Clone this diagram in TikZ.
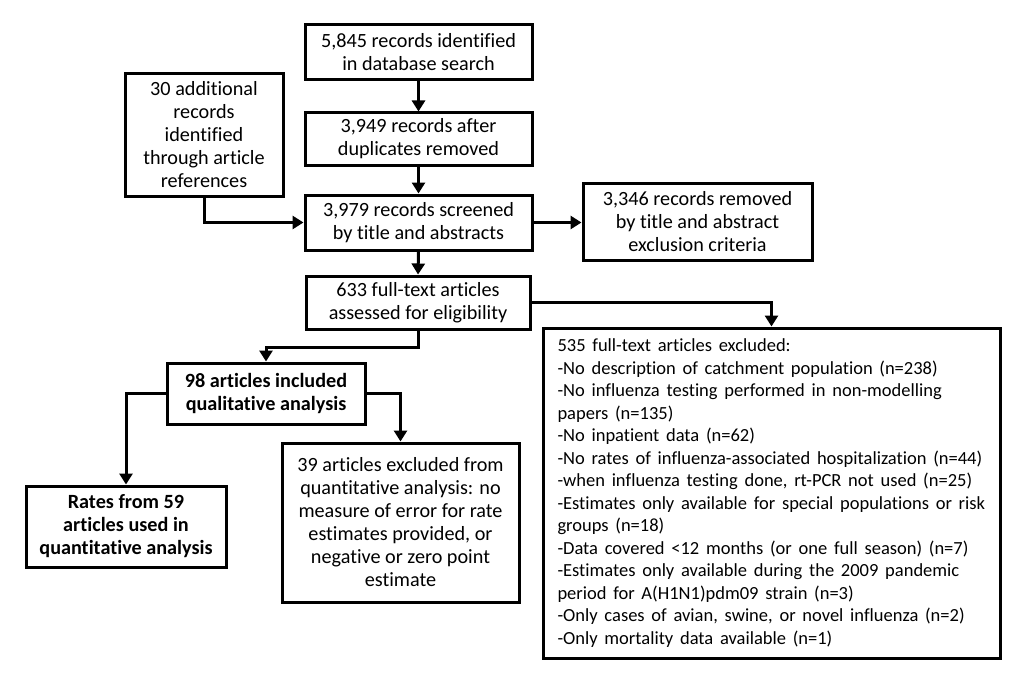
\documentclass[tikz,border=0pt]{standalone}
\usepackage{fontspec}
\setmainfont[Ligatures={NoCommon,TeX}]{Carlito}
\usetikzlibrary{arrows.meta}
\begin{document}
\begin{tikzpicture}[x=1pt,y=-1pt,
  box/.style={draw, line width=3pt, inner sep=0pt, align=center,
    font=\fontsize{20.2}{23}\selectfont},
  boldbox/.style={box, font=\fontsize{20.2}{23}\selectfont\bfseries},
  conn/.style={line width=3pt, -{Triangle[length=11pt,width=13pt]}}]
\useasboundingbox (0,0) rectangle (1024,698);
\node[box, minimum width=227, minimum height=55] (A) at (418.5,52.5)
  {5,845 records identified\\in database search};
\node[box, minimum width=227, minimum height=52] (B) at (418.5,139)
  {3,949 records after\\duplicates removed};
\node[box, minimum width=158, minimum height=122] (C) at (204,135)
  {30 additional\\records\\identified\\through article\\references};
\node[box, minimum width=227, minimum height=55] (D) at (418.5,222.5)
  {3,979 records screened\\by title and abstracts};
\node[box, minimum width=229, minimum height=77] (E) at (697.5,221.5)
  {3,346 records removed\\by title and abstract\\exclusion criteria};
\node[box, minimum width=224, minimum height=53] (F) at (418,302.5)
  {633 full-text articles\\assessed for eligibility};
\node[box, minimum width=457, minimum height=330, align=left,
  text width=442] (G) at (771.5,493)
  {\hspace*{7pt}\begin{minipage}{435pt}\fontsize{18.5}{22.5}\selectfont
  535 full-text articles excluded:\\
  -No description of catchment population (n=238)\\
  -No influenza testing performed in non-modelling\\
  papers (n=135)\\
  -No inpatient data (n=62)\\
  -No rates of influenza-associated hospitalization (n=44)\\
  -when influenza testing done, rt-PCR not used (n=25)\\
  -Estimates only available for special populations or risk\\
  groups (n=18)\\
  -Data covered <12 months (or one full season) (n=7)\\
  -Estimates only available during the 2009 pandemic\\
  period for A(H1N1)pdm09 strain (n=3)\\
  -Only cases of avian, swine, or novel influenza (n=2)\\
  -Only mortality data available (n=1)
  \end{minipage}};
\node[boldbox, minimum width=198, minimum height=61] (H) at (266,393.5)
  {98 articles included\\qualitative analysis};
\node[boldbox, minimum width=200, minimum height=81] (I) at (126,526.5)
  {Rates from 59\\articles used in\\quantitative analysis};
\node[box, minimum width=237, minimum height=159] (J) at (400.5,522.5)
  {39 articles excluded from\\quantitative analysis: no\\measure of error for rate\\estimates provided, or\\negative or zero point\\estimate};
\draw[conn] (A.south) -- (B.north);
\draw[conn] (B.south) -- (D.north);
\draw[conn] (C.south) |- (D.west);
\draw[conn] (D.east) -- (E.west |- D.east);
\draw[conn] (D.south) -- (F.north);
\draw[conn] (F.east) -| (G.north);
\draw[conn] (F.south) -- ++(0,17) -| (H.north);
\draw[conn] (H.west) -| (I.north);
\draw[conn] (H.east) -| (J.north);
\end{tikzpicture}
\end{document}
